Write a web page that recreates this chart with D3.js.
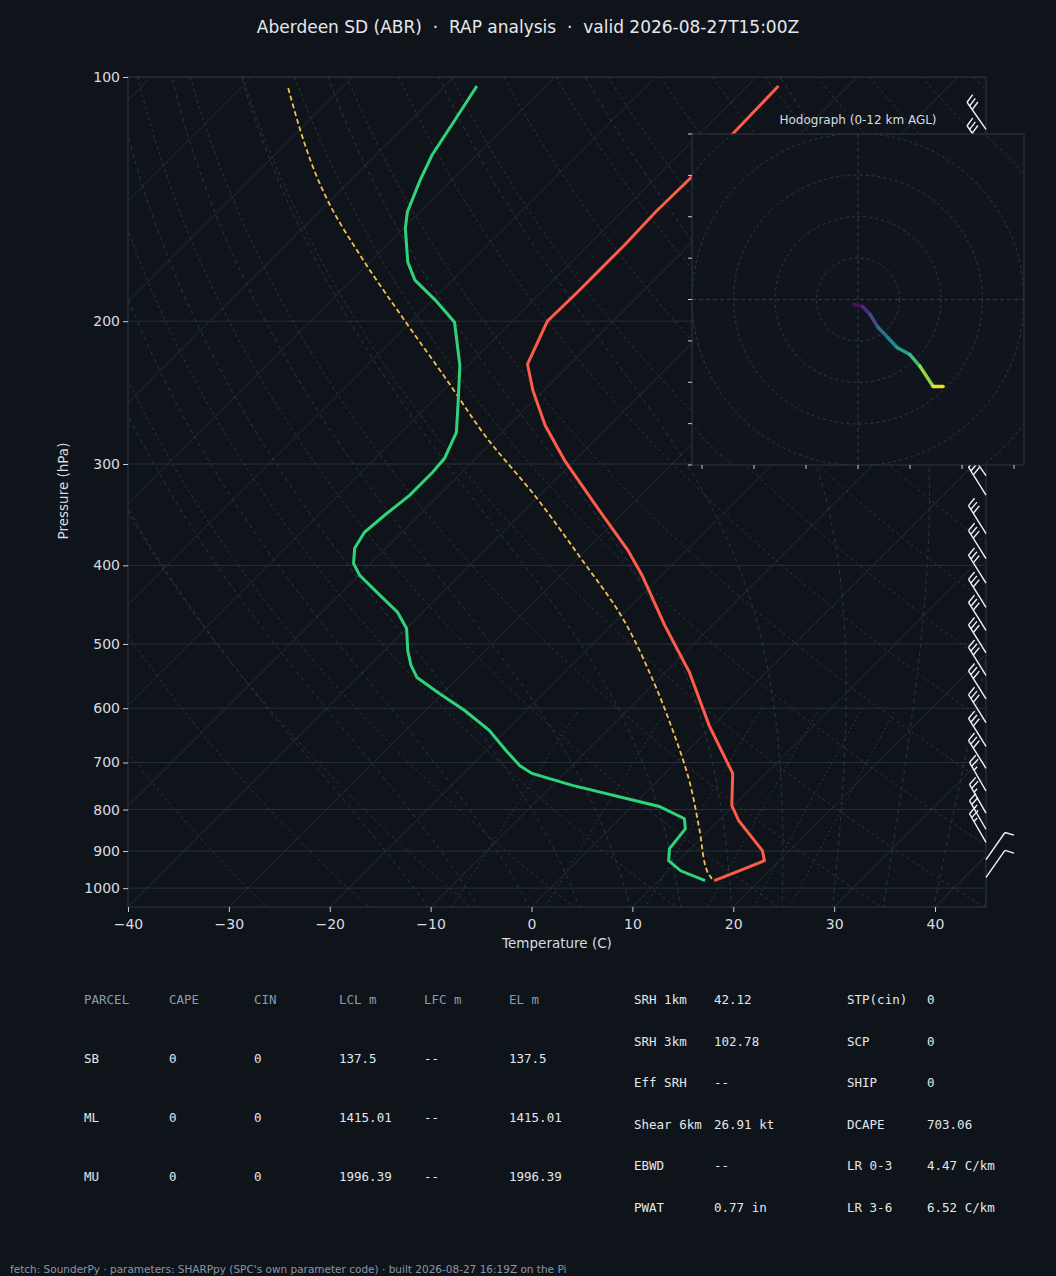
<!DOCTYPE html>
<meta charset="utf-8">
<style>
body { margin:0; background:#0f141b; }
text { font-family: "DejaVu Sans", sans-serif; white-space: pre; }
.mono { font-family: "DejaVu Sans Mono", monospace; }
</style>
<body>
<svg width="1056" height="1276"></svg>
</body>
<script src="https://d3js.org/d3.v7.min.js"></script>
<script>
// sounding data (hPa, C)
var tempP  = [102.6,133.2,146.7,161.2,173.0,184.2,200,226,243.3,268.8,296.9,342.2,383.3,411.6,474.4,542,630,722,791,826,899,925,952,979];
var tempT  = [-56.9,-56.5,-56.6,-56.4,-56.4,-56.4,-56.5,-54.2,-51.1,-46.4,-41,-32.6,-25.8,-21.9,-14.7,-7.6,-0.4,6.7,9.8,12,17.3,18.5,17,15.5];
var dewP   = [102.6,113,124.8,134,146.7,153.6,169.1,178,188.4,200.6,226.7,250.3,274.2,295.2,307.1,327.9,347,364.2,381,397.8,411.6,435.6,457,478.4,509.3,531.3,550,575.4,604,639,677,706,722,747,793,821,845,894,925,952,979];
var dewTd  = [-86.8,-85.6,-84.4,-83.1,-81.2,-79.8,-76.2,-73.7,-69.7,-65.6,-60.8,-57.5,-54.5,-53.1,-52.9,-52.9,-53.4,-53.7,-53.1,-51.7,-49.9,-45.9,-42.5,-40,-37.7,-35.9,-34.1,-30.3,-26.1,-21.7,-18,-15.2,-13.2,-8,2.7,6.4,7.5,7.9,9,11.2,14.6];
var parcelP = [103.2,145.9,168.2,200,236.5,277.8,329.5,390.6,458.9,554.7,639.1,736.8,849.4,951.8,974];
var parcelT = [-105.3,-88.8,-80.8,-70.6,-60.6,-51.1,-40.2,-29.9,-20.3,-10.4,-3.5,3.1,9.1,13.8,15.1];
// wind barbs
var barbP   = [116,124,132.5,141.4,151,161.2,172,183.7,196,209.4,223.5,238.6,254.8,272,290.4,310,327.8,365.5,392.3,420.8,450.6,481.2,512.8,546.5,584.2,625,668.8,711.7,759,808,846,878,922,970];
var barbDir = [325,325,325,325,325,325,325,325,325,325,325,325,325,325,325,325,328,328,328,328,328,328,328,328,328,328,328,328,330,330,330,330,35,35];
var barbSpd = [30,30,30,30,30,30,30,30,30,30,30,30,30,30,30,30,30,30,30,30,30,30,30,30,30,30,30,30,25,25,25,25,10,10];
// hodograph (kt) and height (km)
var hodoU = [-1.0,1.1,2.9,4.8,7.2,9.4,12.5,14.9,18.1,20.5];
var hodoV = [-1.2,-1.7,-3.6,-6.7,-9.2,-11.6,-13.3,-16.1,-21.0,-21.0];
var hodoZ = [0,1,2,3.5,5,6,7.5,9,11,12];
// tables
var parcelHead = ["PARCEL","CAPE","CIN","LCL m","LFC m","EL m"];
var parcelRows = [["SB","0","0","137.5","--","137.5"],["ML","0","0","1415.01","--","1415.01"],["MU","0","0","1996.39","--","1996.39"]];
var idx1 = [["SRH 1km","42.12"],["SRH 3km","102.78"],["Eff SRH","--"],["Shear 6km","26.91 kt"],["EBWD","--"],["PWAT","0.77 in"]];
var idx2 = [["STP(cin)","0"],["SCP","0"],["SHIP","0"],["DCAPE","703.06"],["LR 0-3","4.47 C/km"],["LR 3-6","6.52 C/km"]];
var tempTicks = [-40,-30,-20,-10,0,10,20,30,40];
var presTicks = [100,200,300,400,500,600,700,800,900,1000];

var svg = d3.select("svg");
var L = 128, R = 986, T = 77, B = 907;
var xs = d3.scaleLinear().domain([-40, 40]).range([128, 935]);
var ys = d3.scaleLog().domain([100, 1055]).range([T, B]);
function px(t, p) { return xs(t) + (B - ys(p)); }

svg.append("text").attr("x", 528).attr("y", 33).attr("text-anchor", "middle")
  .attr("fill", "#e6e8eb").attr("font-size", 17)
  .text("Aberdeen SD (ABR)  \u00b7  RAP analysis  \u00b7  valid 2026-08-27T15:00Z");

svg.append("defs").append("clipPath").attr("id", "clip")
  .append("rect").attr("x", L).attr("y", T).attr("width", R - L).attr("height", B - T);
var g = svg.append("g").attr("clip-path", "url(#clip)");

var pGrid = d3.range(100, 1061, 10);
var line = d3.line().x(d => px(d[0], d[1])).y(d => ys(d[1]));

// horizontal grid
presTicks.forEach(p => g.append("line").attr("x1", L).attr("x2", R).attr("y1", ys(p)).attr("y2", ys(p))
  .attr("stroke", "#26303c").attr("stroke-width", 1));
// isotherms
d3.range(-120, 50, 10).forEach(t => g.append("path").attr("d", line([[t, 100], [t, 1060]]))
  .attr("fill", "none").attr("stroke", "#232d38").attr("stroke-width", 1));
// dry adiabats
d3.range(-30, 221, 10).forEach(th => {
  var pts = pGrid.map(p => [(th + 273.15) * Math.pow(p / 1000, 0.2857) - 273.15, p]);
  g.append("path").attr("d", line(pts)).attr("fill", "none")
    .attr("stroke", "#4a3d2a").attr("stroke-width", 0.9).attr("stroke-dasharray", "3,3").attr("opacity", 0.8);
});
// moist adiabats
function es(t) { return 6.112 * Math.exp(17.67 * t / (t + 243.5)); }
d3.range(-10, 46, 5).forEach(t0 => {
  var pts = [], t = t0 + 273.15;
  for (var p = 1060; p >= 100; p -= 5) {
    var tc = t - 273.15;
    pts.push([tc, p]);
    var rs = 0.622 * es(tc) / (p - es(tc));
    var dTdp = (287 * t + 2.5e6 * rs) / (p * (1005 + 2.5e6 * 2.5e6 * rs * 0.622 / (287 * t * t)));
    t -= dTdp * 5;
  }
  g.append("path").attr("d", line(pts)).attr("fill", "none")
    .attr("stroke", "#2b3b4a").attr("stroke-width", 0.9).attr("stroke-dasharray", "4,4");
});
// mixing ratio
[2, 4, 8, 12, 16, 20].forEach(w => {
  var pts = d3.range(600, 1061, 20).map(p => {
    var e = p * (w / 1000) / (0.622 + w / 1000);
    var a = Math.log(e / 6.112);
    return [243.5 * a / (17.67 - a), p];
  });
  g.append("path").attr("d", line(pts)).attr("fill", "none")
    .attr("stroke", "#2f4a3a").attr("stroke-width", 0.9).attr("stroke-dasharray", "1.5,3");
});

// profiles
g.append("path").attr("d", d3.line().curve(d3.curveMonotoneY).x(d => px(d[0], d[1])).y(d => ys(d[1]))(parcelP.map((p, i) => [parcelT[i], p])))
  .attr("fill", "none").attr("stroke", "#f2c14e").attr("stroke-width", 1.8).attr("stroke-dasharray", "5,3");
g.append("path").attr("d", line(tempP.map((p, i) => [tempT[i], p])))
  .attr("fill", "none").attr("stroke", "#ff5a4a").attr("stroke-width", 3);
g.append("path").attr("d", line(dewP.map((p, i) => [dewTd[i], p])))
  .attr("fill", "none").attr("stroke", "#2fd47a").attr("stroke-width", 3);

// frame and axes
svg.append("rect").attr("x", L).attr("y", T).attr("width", R - L).attr("height", B - T)
  .attr("fill", "none").attr("stroke", "#2c3746");
var xa = svg.append("g").attr("transform", "translate(0," + B + ")")
  .call(d3.axisBottom(xs).tickValues(tempTicks).tickSize(5).tickFormat(d => d < 0 ? "\u2212" + (-d) : d));
var ya = svg.append("g").attr("transform", "translate(" + L + ",0)")
  .call(d3.axisLeft(ys).tickValues(presTicks).tickSize(5).tickFormat(d3.format("d")));
[xa, ya].forEach(a => {
  a.select(".domain").remove();
  a.selectAll("line").attr("stroke", "#c8cdd3");
  a.selectAll("text").attr("fill", "#d8dce0").attr("font-size", 14).attr("font-family", "DejaVu Sans");
});
xa.selectAll("text").attr("dy", "1em");
svg.append("text").attr("x", 557).attr("y", 948).attr("text-anchor", "middle")
  .attr("fill", "#d8dce0").attr("font-size", 13.5).text("Temperature (C)");
svg.append("text").attr("transform", "translate(68,491) rotate(-90)").attr("text-anchor", "middle")
  .attr("fill", "#d8dce0").attr("font-size", 13.5).text("Pressure (hPa)");

// wind barbs
var bg = svg.append("g").attr("stroke", "#f0f2f4").attr("stroke-width", 1.4).attr("fill", "none");
barbP.forEach((p, i) => {
  var x0 = R, y0 = ys(p);
  var a = barbDir[i] * Math.PI / 180;
  var dx = Math.sin(a), dy = -Math.cos(a);  // toward wind source, screen coords
  var len = 33;
  var tx = x0 + dx * len, ty = y0 + dy * len;
  bg.append("line").attr("x1", x0).attr("y1", y0).attr("x2", tx).attr("y2", ty);
  var nx = -dy, ny = dx;  // right of staff
  var s = barbSpd[i], k = 0;
  var full = Math.floor(s / 10), half = (s % 10) >= 5 ? 1 : 0;
  for (var j = 0; j < full; j++, k++) {
    var bx = tx - dx * k * 4.5, by = ty - dy * k * 4.5;
    bg.append("line").attr("x1", bx).attr("y1", by)
      .attr("x2", bx + nx * 9 + dx * 3).attr("y2", by + ny * 9 + dy * 3);
  }
  if (half) {
    var hx = tx - dx * k * 4.5, hy = ty - dy * k * 4.5;
    bg.append("line").attr("x1", hx).attr("y1", hy)
      .attr("x2", hx + nx * 4.5 + dx * 1.5).attr("y2", hy + ny * 4.5 + dy * 1.5);
  }
});

// hodograph inset
var hx0 = 692, hy0 = 134, hw = 332, hh = 331;
var hu = d3.scaleLinear().domain([-40, 40]).range([hx0, hx0 + hw]);
var hv = d3.scaleLinear().domain([40, -40]).range([hy0, hy0 + hh]);
var hgp = svg.append("g");
hgp.append("rect").attr("x", hx0).attr("y", hy0).attr("width", hw).attr("height", hh)
  .attr("fill", "#10151d").attr("stroke", "#2c3746");
hgp.append("defs").append("clipPath").attr("id", "hclip")
  .append("rect").attr("x", hx0).attr("y", hy0).attr("width", hw).attr("height", hh);
var hg = hgp.append("g").attr("clip-path", "url(#hclip)");
[10, 20, 30, 40, 50].forEach(r => hg.append("circle").attr("cx", hu(0)).attr("cy", hv(0))
  .attr("r", hu(r) - hu(0)).attr("fill", "none").attr("stroke", "#2c3a4a").attr("stroke-dasharray", "3,3"));
hg.append("line").attr("x1", hx0).attr("x2", hx0 + hw).attr("y1", hv(0)).attr("y2", hv(0))
  .attr("stroke", "#2c3a4a").attr("stroke-dasharray", "4,3");
hg.append("line").attr("y1", hy0).attr("y2", hy0 + hh).attr("x1", hu(0)).attr("x2", hu(0))
  .attr("stroke", "#2c3a4a").attr("stroke-dasharray", "4,3");
var zc = d3.scaleSequential(d3.interpolateViridis).domain([0, 12]);
for (var i = 0; i < hodoU.length - 1; i++) {
  hg.append("line").attr("x1", hu(hodoU[i])).attr("y1", hv(hodoV[i]))
    .attr("x2", hu(hodoU[i + 1])).attr("y2", hv(hodoV[i + 1]))
    .attr("stroke", zc((hodoZ[i] + hodoZ[i + 1]) / 2)).attr("stroke-width", 3.5).attr("stroke-linecap", "round");
}
var hxt = d3.scaleLinear().domain([-30, 30]).range([hu(0) - 156, hu(0) + 156]);
d3.range(-30, 31, 10).forEach(t => hgp.append("line").attr("x1", hxt(t)).attr("x2", hxt(t))
  .attr("y1", hy0 + hh).attr("y2", hy0 + hh + 4).attr("stroke", "#c8cdd3"));
d3.range(-40, 41, 10).forEach(t => hgp.append("line").attr("y1", hv(t)).attr("y2", hv(t))
  .attr("x1", hx0).attr("x2", hx0 - 4).attr("stroke", "#c8cdd3"));
hgp.append("text").attr("x", hx0 + hw / 2).attr("y", 124).attr("text-anchor", "middle")
  .attr("fill", "#d8dce0").attr("font-size", 12).text("Hodograph (0-12 km AGL)");

// parameter tables
var tx = [84, 169, 254, 339, 424, 509];
var tb = svg.append("g").attr("font-size", 12.5);
parcelHead.forEach((h, j) => tb.append("text").attr("class", "mono").attr("x", tx[j]).attr("y", 1004)
  .attr("fill", "#8a9bb0").text(h));
parcelRows.forEach((r, i) => r.forEach((v, j) => tb.append("text").attr("class", "mono")
  .attr("x", tx[j]).attr("y", 1063 + i * 59).attr("fill", "#e4e7ea").text(v)));
idx1.forEach((r, i) => {
  tb.append("text").attr("class", "mono").attr("x", 634).attr("y", 1004 + i * 41.6).attr("fill", "#e4e7ea").text(r[0]);
  tb.append("text").attr("class", "mono").attr("x", 714).attr("y", 1004 + i * 41.6).attr("fill", "#e4e7ea").text(r[1]);
});
idx2.forEach((r, i) => {
  tb.append("text").attr("class", "mono").attr("x", 847).attr("y", 1004 + i * 41.6).attr("fill", "#e4e7ea").text(r[0]);
  tb.append("text").attr("class", "mono").attr("x", 927).attr("y", 1004 + i * 41.6).attr("fill", "#e4e7ea").text(r[1]);
});
svg.append("text").attr("x", 10).attr("y", 1273).attr("fill", "#8a96a4").attr("font-size", 10.5)
  .text("fetch: SounderPy \u00b7 parameters: SHARPpy (SPC's own parameter code) \u00b7 built 2026-08-27 16:19Z on the Pi");
</script>
